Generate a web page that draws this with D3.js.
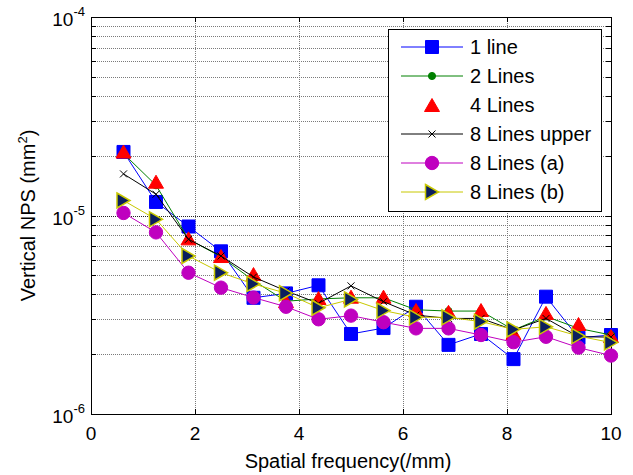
<!DOCTYPE html>
<html>
<head>
<meta charset="utf-8">
<script src="https://cdn.jsdelivr.net/npm/d3@7"></script>
<style>
  body { margin: 0; background: #fff; }
  text { font-family: Arial, 'Liberation Sans', sans-serif; fill: #000; }
</style>
</head>
<body>
<div id="chart"></div>
<script>
// spatial frequency samples (/mm)
const freq = [0.625, 1.25, 1.875, 2.5, 3.125, 3.75, 4.375, 5.0, 5.625, 6.25, 6.875, 7.5, 8.125, 8.75, 9.375, 10];

// vertical NPS values (mm^2)
const oneLine = [2.09e-5, 1.17e-5, 8.8e-6, 6.6e-6, 3.85e-6, 4.05e-6, 4.45e-6, 2.53e-6, 2.71e-6, 3.47e-6, 2.23e-6, 2.53e-6, 1.89e-6, 3.9e-6, 2.42e-6, 2.5e-6];
const twoLines = [2.05e-5, 1.42e-5, 7.6e-6, 6.2e-6, 4.7e-6, 3.7e-6, 3.8e-6, 3.85e-6, 3.85e-6, 3.35e-6, 3.3e-6, 3.3e-6, 2.65e-6, 3.1e-6, 2.7e-6, 2.5e-6];
const fourLines = [2.1e-5, 1.48e-5, 7.67e-6, 6.25e-6, 5.07e-6, 3.7e-6, 3.84e-6, 3.9e-6, 3.9e-6, 3.34e-6, 3.27e-6, 3.34e-6, 2.56e-6, 3.23e-6, 2.84e-6, 2.47e-6];
const eightUpper = [1.62e-5, 1.28e-5, 7.59e-6, 6.25e-6, 4.9e-6, 4.17e-6, 3.61e-6, 4.42e-6, 3.68e-6, 3.15e-6, 3.03e-6, 3.03e-6, 2.65e-6, 3.03e-6, 2.45e-6, 2.44e-6];
const eightA = [1.03e-5, 8.22e-6, 5.15e-6, 4.33e-6, 3.86e-6, 3.47e-6, 3.0e-6, 3.13e-6, 2.9e-6, 2.7e-6, 2.7e-6, 2.5e-6, 2.3e-6, 2.45e-6, 2.16e-6, 1.97e-6];
const eightB = [1.19e-5, 9.57e-6, 6.25e-6, 5.15e-6, 4.52e-6, 4.06e-6, 3.43e-6, 3.78e-6, 3.32e-6, 3.07e-6, 3.07e-6, 2.92e-6, 2.67e-6, 2.75e-6, 2.47e-6, 2.29e-6];

const seriesNames = ['1 line', '2 Lines', '4 Lines', '8 Lines upper', '8 Lines (a)', '8 Lines (b)'];
const xTicks = [0, 2, 4, 6, 8, 10];
const yMajorExp = [-4, -5, -6];

const width = 633, height = 475;
const plot = { left: 91, right: 611, top: 17, bottom: 414 };

const x = d3.scaleLinear().domain([0, 10]).range([plot.left, plot.right]);
const y = d3.scaleLog().domain([1e-6, 1e-4]).range([plot.bottom, plot.top]);

// marker path builders, centred on the data point
const markers = {
	square: d3.symbol().type(d3.symbolSquare).size(169)(),
	dot: d3.symbol().type(d3.symbolCircle).size(40)(),
	up: 'M0,-6.5L7.5,6.5L-7.5,6.5Z',
	cross: 'M-3.5,-3.5L3.5,3.5M-3.5,3.5L3.5,-3.5',
	circle: d3.symbol().type(d3.symbolCircle).size(140)(),
	right: 'M-6.5,-7.5L6.5,0L-6.5,7.5Z'
};

const series = [
	{ name: seriesNames[0], values: oneLine, line: '#0000ff', marker: 'square', fill: '#0000ff', stroke: '#0000ff', sw: 1 },
	{ name: seriesNames[1], values: twoLines, line: '#008000', marker: 'dot', fill: '#008000', stroke: '#008000', sw: 1 },
	{ name: seriesNames[2], values: fourLines, line: null, marker: 'up', fill: '#ff0000', stroke: '#ff0000', sw: 1 },
	{ name: seriesNames[3], values: eightUpper, line: '#000000', marker: 'cross', fill: 'none', stroke: '#000000', sw: 1 },
	{ name: seriesNames[4], values: eightA, line: '#bf00bf', marker: 'circle', fill: '#bf00bf', stroke: '#bf00bf', sw: 1 },
	{ name: seriesNames[5], values: eightB, line: '#c8c800', marker: 'right', fill: '#0b1f5e', stroke: '#c8c800', sw: 1.5 }
];

const svg = d3.select('#chart').append('svg')
	.attr('width', width)
	.attr('height', height);

// grid lines (minor log values dotted)
const yGrid = [];
[-6, -5].forEach((e) => {
	for (let m = 1; m <= 9; m++) yGrid.push(m * Math.pow(10, e));
});
yGrid.shift(); // skip bottom edge
svg.append('g')
	.selectAll('line')
	.data(yGrid)
	.enter()
	.append('line')
	.attr('x1', plot.left)
	.attr('x2', plot.right)
	.attr('y1', (d) => Math.round(y(d)) + 0.5)
	.attr('y2', (d) => Math.round(y(d)) + 0.5)
	.style('stroke', (d) => (Math.abs(d - 1e-5) < 1e-12 ? '#222' : '#7a7a7a'))
	.style('stroke-width', 1)
	.style('stroke-dasharray', '1,1');

svg.append('g')
	.selectAll('line')
	.data(xTicks.slice(1, -1))
	.enter()
	.append('line')
	.attr('x1', (d) => Math.round(x(d)) + 0.5)
	.attr('x2', (d) => Math.round(x(d)) + 0.5)
	.attr('y1', plot.top)
	.attr('y2', plot.bottom)
	.style('stroke', '#7a7a7a')
	.style('stroke-width', 1)
	.style('stroke-dasharray', '1,1');

// inward ticks on all four sides
const tickLen = 5;
const ticks = svg.append('g').style('stroke', '#000').style('stroke-width', 1);
xTicks.forEach((t) => {
	const px = Math.round(x(t)) + 0.5;
	ticks.append('line').attr('x1', px).attr('x2', px).attr('y1', plot.bottom).attr('y2', plot.bottom - tickLen);
	ticks.append('line').attr('x1', px).attr('x2', px).attr('y1', plot.top).attr('y2', plot.top + tickLen);
});
yGrid.concat([1e-4]).forEach((t) => {
	const py = Math.round(y(t)) + 0.5;
	ticks.append('line').attr('x1', plot.left).attr('x2', plot.left + tickLen).attr('y1', py).attr('y2', py);
	ticks.append('line').attr('x1', plot.right).attr('x2', plot.right - tickLen).attr('y1', py).attr('y2', py);
});

// frame
svg.append('rect')
	.attr('x', plot.left + 0.5)
	.attr('y', plot.top + 0.5)
	.attr('width', plot.right - plot.left)
	.attr('height', plot.bottom - plot.top)
	.style('fill', 'none')
	.style('stroke', '#000')
	.style('stroke-width', 1);

// x tick labels
svg.append('g')
	.selectAll('text')
	.data(xTicks)
	.enter()
	.append('text')
	.attr('x', (d) => x(d))
	.attr('y', 440)
	.attr('text-anchor', 'middle')
	.style('font-size', '19px')
	.text((d) => d);

// y tick labels with superscript exponent
const yLab = svg.append('g')
	.selectAll('text')
	.data(yMajorExp)
	.enter()
	.append('text')
	.attr('x', 85)
	.attr('y', (d) => y(Math.pow(10, d)) + 9)
	.attr('text-anchor', 'end')
	.style('font-size', '19px');
yLab.append('tspan').text('10');
yLab.append('tspan').attr('dy', -10).style('font-size', '13px').text((d) => d);

// axis titles
svg.append('text')
	.attr('x', (plot.left + plot.right) / 2 - 3)
	.attr('y', 468)
	.attr('text-anchor', 'middle')
	.style('font-size', '20px')
	.text('Spatial frequency(/mm)');

const yTitle = svg.append('text')
	.attr('transform', 'translate(35,' + (plot.top + plot.bottom) / 2 + ') rotate(-90)')
	.attr('text-anchor', 'middle')
	.style('font-size', '20px');
yTitle.append('tspan').text('Vertical NPS (mm');
yTitle.append('tspan').attr('dy', -8).style('font-size', '13px').text('2');
yTitle.append('tspan').attr('dy', 8).text(')');

// series lines and markers
const lineGen = d3.line()
	.x((d, i) => x(freq[i]))
	.y((d) => y(d));

series.forEach((s) => {
	const g = svg.append('g');
	if (s.line) {
		g.append('path')
			.attr('d', lineGen(s.values))
			.style('fill', 'none')
			.style('stroke', s.line)
			.style('stroke-width', 1);
	}
	g.selectAll('path.mk')
		.data(s.values)
		.enter()
		.append('path')
		.attr('class', 'mk')
		.attr('transform', (d, i) => 'translate(' + x(freq[i]) + ',' + y(d) + ')')
		.attr('d', markers[s.marker])
		.style('fill', s.fill)
		.style('stroke', s.stroke)
		.style('stroke-width', s.sw);
});

// legend
const legend = svg.append('g');
legend.append('rect')
	.attr('x', 388.5)
	.attr('y', 29.5)
	.attr('width', 213)
	.attr('height', 182)
	.style('fill', '#fff')
	.style('stroke', '#000')
	.style('stroke-width', 1);

series.forEach((s, i) => {
	const ry = 47 + i * 29;
	if (s.line) {
		legend.append('line')
			.attr('x1', 401)
			.attr('x2', 463)
			.attr('y1', ry)
			.attr('y2', ry)
			.style('stroke', s.line)
			.style('stroke-width', 1);
	}
	legend.append('path')
		.attr('transform', 'translate(432,' + ry + ')')
		.attr('d', markers[s.marker])
		.style('fill', s.fill)
		.style('stroke', s.stroke)
		.style('stroke-width', s.sw);
	legend.append('text')
		.attr('x', 470)
		.attr('y', ry + 7)
		.style('font-size', '20px')
		.text(s.name);
});
</script>
</body>
</html>
